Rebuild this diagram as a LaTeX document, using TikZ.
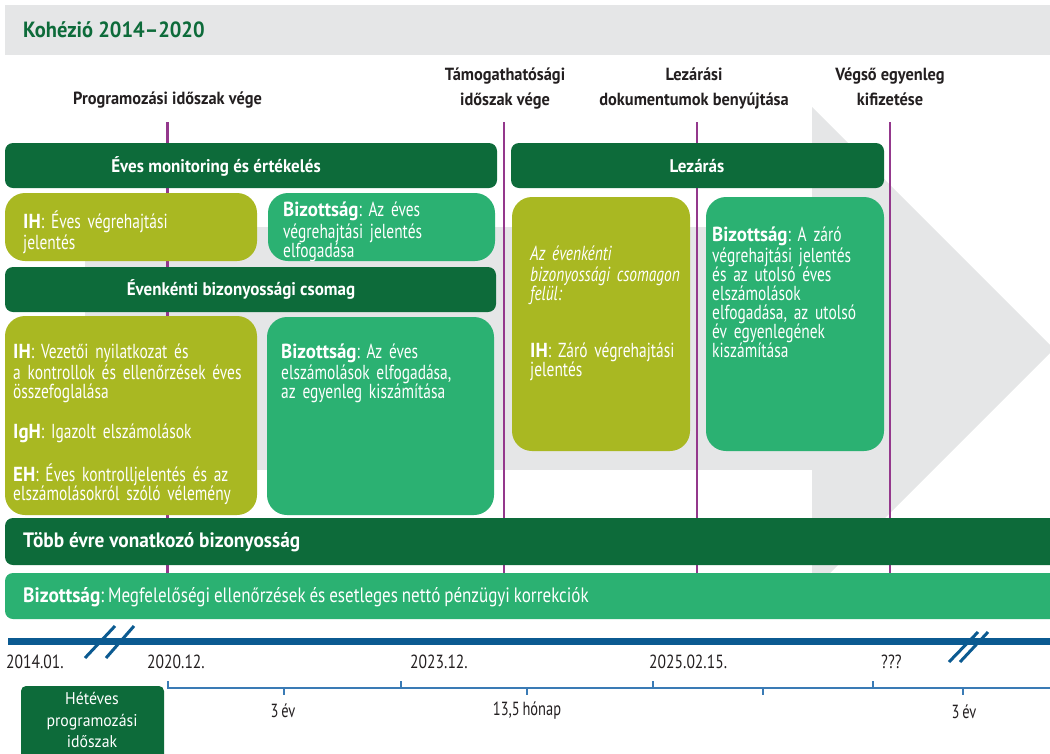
\documentclass[tikz,border=0pt]{standalone}
\usepackage{fontspec}
\setmainfont{PT Sans}[FakeStretch=0.76, WordSpace=0.72]
\newfontfamily\hd{PT Sans}[FakeStretch=0.93]
\newfontfamily\md{PT Sans}[FakeStretch=0.82, WordSpace=0.85]
\newcommand\B[1]{{\hd\bfseries #1}}
\definecolor{dkgreen}{RGB}{13,107,58}
\definecolor{olive}{RGB}{169,184,34}
\definecolor{ltgreen}{RGB}{43,177,114}
\definecolor{vline}{RGB}{148,56,140}
\definecolor{graybg}{RGB}{229,230,231}
\definecolor{tlblue}{RGB}{11,90,145}
\definecolor{rulerblue}{RGB}{58,123,181}
\definecolor{ink}{RGB}{35,31,32}
\begin{document}
\frenchspacing
\begin{tikzpicture}[x=1pt,y=-1pt,
  bar/.style={fill=dkgreen, rounded corners=8pt},
  cbox/.style={rounded corners=20pt},
  bartxt/.style={text=white, inner sep=0pt, font=\fontsize{18.3}{19}\selectfont\hd\bfseries},
  boxtxt/.style={anchor=north west, inner sep=0pt, text=white, text width=230pt, align=left, font=\frenchspacing\fontsize{20.3}{19}\selectfont},
  toplbl/.style={text=ink, inner sep=0pt, align=center, font=\fontsize{17.6}{25}\selectfont\hd\bfseries},
  datelbl/.style={anchor=west, text=ink, inner sep=0pt, font=\fontsize{19}{20}\selectfont\md},
  perlbl/.style={text=ink, inner sep=0pt, font=\fontsize{19}{20}\selectfont},
  period/.style={draw=vline, line width=2.5pt},
  tick/.style={draw=rulerblue, line width=1.6pt},
  brk/.style={draw=tlblue, line width=3pt}
]
\useasboundingbox (0,0) rectangle (1050,753);
\clip (0,0) rectangle (1050,753);

% title band
\fill[graybg] (5,5) rectangle (1050,55);
\node[anchor=west, inner sep=0pt, text=dkgreen, font=\fontsize{22}{24}\selectfont\hd\bfseries] (title) at (23,30) {Kohézió 2014–2020};

% big grey arrow
\fill[graybg] (85,227) rectangle (812,470);
\fill[graybg] (812,107) -- (1054,349) -- (812,591) -- cycle;

% period lines
\coordinate (p1t) at (167.5,122); \coordinate (p1b) at (167.5,590);
\coordinate (p2t) at (504,122);   \coordinate (p2b) at (504,590);
\coordinate (p3t) at (697,122);   \coordinate (p3b) at (697,590);
\coordinate (p4t) at (890,122);   \coordinate (p4b) at (890,590);
\draw[period] (p1t) -- (p1b);
\draw[period] (p2t) -- (p2b);
\draw[period] (p3t) -- (p3b);
\draw[period] (p4t) -- (p4b);

% top labels
\node[toplbl] (l1) at (167.5,100) {Programozási időszak vége};
\node[toplbl] (l2) at (505,88.5) {Támogathatósági\\időszak vége};
\node[toplbl] (l3) at (694,88.5) {Lezárási\\dokumentumok benyújtása};
\node[toplbl] (l4) at (890,87) {Végső egyenleg\\kifizetése};

% bars
\fill[bar] (5,143) rectangle (497,188);
\node[bartxt] (b1) at (216,166) {Éves monitoring és értékelés};
\fill[bar] (511,143) rectangle (884,188);
\node[bartxt] (b2) at (697,166) {Lezárás};
\fill[bar] (5,267) rectangle (496,312);
\node[bartxt] (b3) at (241,289.5) {Évenkénti bizonyossági csomag};

% content boxes
\fill[olive, cbox] (5,193) rectangle (257,261);
\node[boxtxt] (t1) at (23,210.7) {\strut\B{IH}: Éves végrehajtási\\jelentés};
\fill[ltgreen, cbox] (268,193) rectangle (495,261);
\node[boxtxt] (t2) at (283,202) {\strut\B{Bizottság}: Az éves\\végrehajtási jelentés\\elfogadása};
\fill[olive, cbox] (5,316) rectangle (257,515);
\node[boxtxt] (t3) at (13,343.7) {\strut\B{IH}: Vezetői nyilatkozat és\\a kontrollok és ellenőrzések éves\\összefoglalása\\[21pt]\B{IgH}: Igazolt elszámolások\\[20pt]\B{EH}: Éves kontrolljelentés és az\\elszámolásokról szóló vélemény};
\fill[ltgreen, cbox] (267,317) rectangle (494,515);
\node[boxtxt] (t4) at (281,343.7) {\strut\B{Bizottság}: Az éves\\elszámolások elfogadása,\\az egyenleg kiszámítása};
\fill[olive, cbox] (512,197) rectangle (690,451);
\node[boxtxt, text width=160pt] (t5) at (530,245.4) {\strut\textit{Az évenkénti\\bizonyossági csomagon\\felül:}\\[38pt]\B{IH}: Záró végrehajtási\\jelentés};
\fill[ltgreen, cbox] (706,197) rectangle (884,451);
\node[boxtxt, text width=165pt] (t6) at (712,226.4) {\strut\B{Bizottság}: A záró\\végrehajtási jelentés\\és az utolsó éves\\elszámolások\\elfogadása, az utolsó\\év egyenlegének\\kiszámítása};

% long bars
\fill[bar] (5,518) rectangle (1070,565);
\node[anchor=west, inner sep=0pt, text=white, font=\fontsize{20.8}{22}\selectfont\hd\bfseries] (b4) at (23,542) {Több évre vonatkozó bizonyosság};
\fill[ltgreen, rounded corners=8pt] (5,573) rectangle (1070,619);
\node[anchor=west, inner sep=0pt, text=white, font=\frenchspacing\fontsize{20.8}{21}\selectfont\md] (b5) at (23,597) {\B{Bizottság}: Megfelelőségi ellenőrzések és esetleges nettó pénzügyi korrekciók};

% timeline
\coordinate (tl0) at (8,641.5); \coordinate (tl1) at (1050,641.5);
\draw[draw=tlblue, line width=6.5pt] (tl0) -- (tl1);
\coordinate (s1a) at (85,658); \coordinate (s1b) at (115,626);
\coordinate (s2a) at (106,658); \coordinate (s2b) at (134,626);
\coordinate (s3a) at (949,662); \coordinate (s3b) at (978,632);
\coordinate (s4a) at (960,662); \coordinate (s4b) at (988,632);
\draw[brk] (s1a) -- (s1b);
\draw[brk] (s2a) -- (s2b);
\draw[brk] (s3a) -- (s3b);
\draw[brk] (s4a) -- (s4b);

\node[datelbl] (d1) at (6,662) {2014.01.};
\node[datelbl] (d2) at (147,662) {2020.12.};
\node[datelbl] (d3) at (410,662) {2023.12.};
\node[datelbl] (d4) at (649,662) {2025.02.15.};
\node[datelbl] (d5) at (881,662) {???};

% ruler
\coordinate (r0) at (168,681); \coordinate (r1) at (168,688); \coordinate (r2) at (1050,688);
\draw[tick, line width=1.3pt] (r0) -- (r1) -- (r2);
\foreach \x in {401,653,873} \draw[tick] (\x,681) -- (\x,688);
\foreach \x in {284,527,763,963} \draw[tick] (\x,688) -- (\x,695);
\node[perlbl] (q1) at (283,711) {3 év};
\node[perlbl] (q2) at (527,711) {13,5 hónap};
\node[perlbl] (q3) at (964,712) {3 év};

% seven-year box
\fill[dkgreen, rounded corners=5pt] (21,770) -- (21,686) -- (164,686) -- (164,770);
\node[text=white, inner sep=0pt, align=center, font=\fontsize{17}{21.5}\selectfont\hd] (hp) at (92,720) {Hétéves\\programozási\\időszak};
\end{tikzpicture}
\end{document}
